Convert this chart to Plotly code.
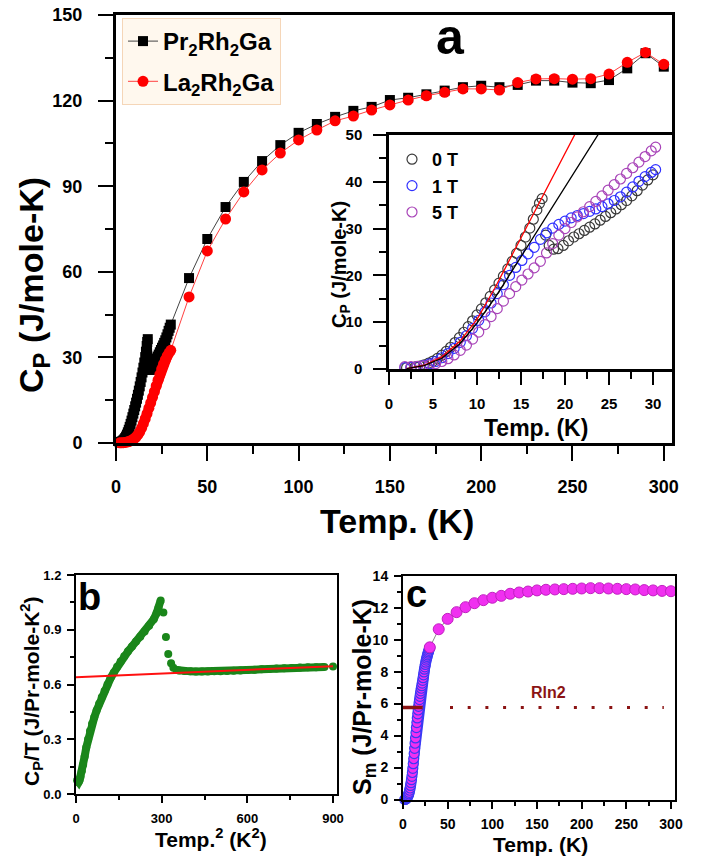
import plotly.graph_objects as go

FONT = "Liberation Sans, Arial, sans-serif"

# ---------------- panel a (main): Cp vs T ----------------
pr_T_low = [2.0, 2.5, 3.0, 3.5, 4.0, 4.5, 5.0, 5.5, 6.0, 6.5, 7.0, 7.5, 8.0, 8.5, 9.0, 9.5, 10.0,
            10.5, 11.0, 11.5, 12.0, 12.5, 13.0, 13.5, 14.0, 14.5, 15.0, 15.5, 16.0, 16.4, 16.8, 17.1,
            17.4, 17.8, 18.2, 18.7, 19.2, 19.8, 20.4, 21.0, 21.6, 22.2, 22.8, 23.4, 24.0, 24.6, 25.2,
            25.8, 26.4, 27.0, 27.6, 28.2, 28.8, 29.4, 30.0]
pr_C_low = [0.3, 0.35, 0.45, 0.62, 0.9, 1.25, 1.7, 2.25, 2.95, 3.75, 4.65, 5.65, 6.7, 7.85, 9.05,
            10.3, 11.55, 12.85, 14.15, 15.5, 16.9, 18.35, 19.85, 21.4, 23.0, 24.7, 26.4, 28.2, 30.1,
            32.0, 34.0, 35.4, 36.4, 28.6, 26.4, 25.6, 25.7, 26.4, 27.4, 28.2, 28.9, 29.6, 30.3, 31.0,
            31.8, 32.6, 33.4, 34.2, 35.1, 36.0, 37.0, 38.1, 39.3, 40.4, 41.5]
pr_T_high = [40, 50, 60, 70, 80, 90, 100, 110, 120, 130, 140, 150, 160, 170, 180, 190, 200, 210,
             220, 230, 240, 250, 260, 270, 280, 290, 300]
pr_C_high = [57.8, 71.5, 82.7, 91.5, 98.8, 104.4, 108.7, 111.8, 114.3, 116.4, 117.8, 120.2, 121.0,
             122.2, 123.5, 124.7, 125.2, 124.7, 125.5, 127.0, 127.0, 126.3, 126.1, 127.2, 131.3,
             136.6, 131.9]

la_T_low = [2, 3, 4, 5, 6, 7, 8, 9, 10, 11, 12, 13, 14, 15, 16, 17, 18, 19, 20, 21, 22, 23, 24,
            25, 26, 27, 28, 29, 30]
la_C_low = [0.05, 0.08, 0.12, 0.2, 0.32, 0.5, 0.75, 1.1, 1.55, 2.1, 2.9, 3.9, 5.2, 6.8, 8.5, 10.3,
            12.2, 14.1, 16.0, 18.0, 20.0, 22.0, 24.0, 25.9, 27.6, 29.1, 30.4, 31.5, 32.5]
la_T_high = pr_T_high
la_C_high = [51.2, 67.3, 78.5, 88.0, 95.7, 101.6, 106.2, 109.7, 112.9, 114.6, 116.7, 118.5, 120.2,
             121.7, 122.9, 124.1, 124.1, 123.7, 126.3, 127.6, 127.7, 127.5, 127.7, 129.3, 133.4,
             136.9, 132.7]

# ---------------- inset: Cp vs T in fields ----------------
f0_T = pr_T_low
f0_C = pr_C_low
f1_T = [1.8, 2.5, 3.2, 3.9, 4.6, 5.3, 6.0, 6.7, 7.4, 8.1, 8.8, 9.5, 10.2, 10.9, 11.6, 12.3, 13.0,
        13.7, 14.4, 15.1, 15.8, 16.5, 17.2, 17.9, 18.6, 19.3, 20.0, 20.7, 21.4, 22.1, 22.8, 23.5,
        24.2, 24.9, 25.6, 26.3, 27.0, 27.7, 28.4, 29.1, 29.8, 30.3]
f1_C = [0.3, 0.35, 0.5, 0.75, 1.1, 1.6, 2.4, 3.3, 4.4, 5.7, 7.1, 8.7, 10.4, 12.2, 14.1, 16.1, 18.0,
        20.0, 21.7, 23.2, 24.6, 26.0, 27.7, 29.1, 30.1, 30.9, 31.6, 32.3, 32.8, 33.2, 33.7, 34.2,
        34.7, 35.3, 36.0, 36.8, 37.8, 38.9, 40.1, 41.1, 42.0, 42.6]
f5_T = f1_T
f5_C = [0.5, 0.5, 0.55, 0.65, 0.85, 1.15, 1.6, 2.2, 3.0, 4.0, 5.1, 6.4, 7.9, 9.5, 11.2, 12.9, 14.5,
        16.1, 17.6, 19.0, 20.3, 21.6, 23.0, 24.8, 26.8, 28.6, 30.0, 31.3, 32.5, 33.6, 34.7, 35.8,
        37.0, 38.2, 39.4, 40.6, 41.8, 43.0, 44.2, 45.4, 46.6, 47.4]
fit_red_T = [2, 4, 6, 8, 10, 12, 14, 16, 18, 20, 21.2]
fit_red_C = [0.1, 0.8, 2.6, 5.8, 10.6, 17.2, 24.4, 31.6, 38.9, 46.1, 50.4]
fit_blk_T = [2, 4, 6, 8, 10, 12, 14, 16, 18, 20, 22, 23.8]
fit_blk_C = [0.1, 0.7, 2.3, 5.3, 9.8, 15.1, 21.0, 27.0, 32.9, 38.9, 44.8, 50.2]

# ---------------- panel b: Cp/T vs T^2 ----------------
b_T2 = [4, 6.25, 9, 12.25, 16, 20.25, 25, 30.25, 36, 42.25, 49, 56.25, 64, 72.25, 81, 90.25, 100,
        110.25, 121, 132.25, 144, 156.25, 169, 182.25, 196, 210.25, 225, 240.25, 256, 272.25, 282,
        289, 296.5, 306, 315, 323, 333, 341, 352, 361, 380, 400, 420, 441, 462, 484, 506, 529, 552,
        576, 600, 625, 650, 676, 702, 729, 756, 784, 812, 841, 870, 900]
b_CpT = [0.075, 0.068, 0.065, 0.075, 0.095, 0.125, 0.16, 0.205, 0.255, 0.3, 0.345, 0.385, 0.42,
         0.458, 0.495, 0.53, 0.565, 0.6, 0.635, 0.665, 0.697, 0.726, 0.755, 0.782, 0.808, 0.835,
         0.862, 0.89, 0.922, 0.958, 0.99, 1.02, 1.06, 0.995, 0.86, 0.767, 0.716, 0.692, 0.68, 0.677,
         0.674, 0.672, 0.671, 0.671, 0.671, 0.672, 0.673, 0.674, 0.676, 0.677, 0.679, 0.681, 0.683,
         0.685, 0.687, 0.689, 0.691, 0.693, 0.694, 0.695, 0.696, 0.698]
b_fit_T2 = [0, 900]
b_fit_CpT = [0.64, 0.70]

# ---------------- panel c: magnetic entropy ----------------
c_T_dense = [2.0, 2.5, 3.0, 3.5, 4.0, 4.5, 5.0, 5.5, 6.0, 6.5, 7.0, 7.5, 8.0, 8.5, 9.0, 9.5, 10.0,
             10.5, 11.0, 11.5, 12.0, 12.5, 13.0, 13.5, 14.0, 14.5, 15.0, 15.5, 16.0, 16.5, 17.0,
             17.5, 18.0, 18.5, 19.0, 19.5, 20.0, 20.5, 21.0, 21.5, 22.0, 22.5, 23.0, 23.5, 24.0,
             24.5, 25.0, 25.5, 26.0, 26.5, 27.0, 27.5, 28.0, 28.5, 29.0, 29.5, 30.0]
c_S_dense = [0.0, 0.01, 0.03, 0.05, 0.08, 0.12, 0.16, 0.21, 0.28, 0.36, 0.45, 0.58, 0.72, 0.88,
             1.05, 1.24, 1.45, 1.69, 1.95, 2.24, 2.55, 2.87, 3.2, 3.52, 3.85, 4.18, 4.5, 4.81, 5.1,
             5.36, 5.6, 5.83, 6.05, 6.25, 6.45, 6.63, 6.8, 6.96, 7.12, 7.28, 7.45, 7.62, 7.8, 7.98,
             8.15, 8.3, 8.45, 8.59, 8.72, 8.84, 8.95, 9.05, 9.15, 9.24, 9.33, 9.42, 9.5]
c_T_sparse = [30, 40, 50, 60, 70, 80, 90, 100, 110, 120, 130, 140, 150, 160, 170, 180, 190, 200,
              210, 220, 230, 240, 250, 260, 270, 280, 290, 300]
c_S_sparse = [9.52, 10.65, 11.3, 11.72, 12.03, 12.28, 12.47, 12.62, 12.74, 12.87, 12.95, 13.01,
              13.08, 13.12, 13.14, 13.16, 13.18, 13.2, 13.22, 13.22, 13.2, 13.18, 13.16, 13.14,
              13.1, 13.08, 13.05, 13.03]
RLN2 = 5.76
rln2_solid_T = [0, 22]
rln2_dot_T = [52.6, 292]

# ---------------- figure ----------------
fig = go.Figure()
W, H = 704, 857


def px_x(p):
    return p / W


def px_y(p):
    return 1 - p / H


# panel a
fig.add_trace(go.Scatter(x=pr_T_low, y=pr_C_low, mode="lines", xaxis="x", yaxis="y",
                         line=dict(color="black", width=8), showlegend=False, hoverinfo="skip"))
fig.add_trace(go.Scatter(x=pr_T_low + pr_T_high, y=pr_C_low + pr_C_high, mode="lines+markers",
                         name="Pr<sub>2</sub>Rh<sub>2</sub>Ga", xaxis="x", yaxis="y",
                         line=dict(color="#444444", width=1),
                         marker=dict(symbol="square", size=10, color="black"),
                         legend="legend", legendgroup="pr", cliponaxis=False))
fig.add_trace(go.Scatter(x=la_T_low, y=la_C_low, mode="lines", xaxis="x", yaxis="y",
                         line=dict(color="#FF0000", width=9), showlegend=False, hoverinfo="skip"))
fig.add_trace(go.Scatter(x=la_T_low + la_T_high, y=la_C_low + la_C_high, mode="lines+markers",
                         name="La<sub>2</sub>Rh<sub>2</sub>Ga", xaxis="x", yaxis="y",
                         line=dict(color="#FF4040", width=1),
                         marker=dict(symbol="circle", size=11, color="#FF0000"),
                         legend="legend", legendgroup="la", cliponaxis=False))

# inset
for T, C, col, nm in [(f0_T, f0_C, "#3A3A3A", "0 T"), (f1_T, f1_C, "#3030FF", "1 T"),
                      (f5_T, f5_C, "#A844B8", "5 T")]:
    fig.add_trace(go.Scatter(x=T, y=C, mode="markers", name=nm, xaxis="x2", yaxis="y2",
                             marker=dict(symbol="circle-open", size=10, color=col,
                                         line=dict(width=1.2, color=col)),
                             legend="legend2"))
fig.add_trace(go.Scatter(x=fit_red_T, y=fit_red_C, mode="lines", xaxis="x2", yaxis="y2",
                         line=dict(color="#FF0000", width=1.3), showlegend=False))
fig.add_trace(go.Scatter(x=fit_blk_T, y=fit_blk_C, mode="lines", xaxis="x2", yaxis="y2",
                         line=dict(color="black", width=1.3), showlegend=False))

# panel b
GREEN = "#1A861A"
fig.add_trace(go.Scatter(x=b_T2[:33], y=b_CpT[:33], mode="lines", xaxis="x3", yaxis="y3",
                         line=dict(color=GREEN, width=8), showlegend=False, hoverinfo="skip"))
fig.add_trace(go.Scatter(x=b_T2[38:61], y=b_CpT[38:61], mode="lines", xaxis="x3", yaxis="y3",
                         line=dict(color=GREEN, width=8), showlegend=False, hoverinfo="skip"))
fig.add_trace(go.Scatter(x=b_T2, y=b_CpT, mode="markers", xaxis="x3", yaxis="y3",
                         marker=dict(size=8, color=GREEN), showlegend=False, cliponaxis=False))
fig.add_trace(go.Scatter(x=b_fit_T2, y=b_fit_CpT, mode="lines", xaxis="x3", yaxis="y3",
                         line=dict(color="#FF1010", width=2), showlegend=False))

# panel c
DARKRED = "#8B1414"
fig.add_trace(go.Scatter(x=c_T_dense, y=c_S_dense, mode="lines", xaxis="x4", yaxis="y4",
                         line=dict(color="#3A3AF5", width=10), showlegend=False, hoverinfo="skip"))
fig.add_trace(go.Scatter(x=c_T_dense, y=c_S_dense, mode="markers", xaxis="x4", yaxis="y4",
                         marker=dict(size=10, color="#F030F0", line=dict(color="#3A3AF5", width=1.2)),
                         showlegend=False, cliponaxis=False))
fig.add_trace(go.Scatter(x=c_T_sparse, y=c_S_sparse, mode="lines+markers", xaxis="x4", yaxis="y4",
                         line=dict(color="#888888", width=1),
                         marker=dict(size=11, color="#F030F0", line=dict(color="#C020C0", width=1)),
                         showlegend=False))
fig.add_trace(go.Scatter(x=rln2_solid_T, y=[RLN2] * len(rln2_solid_T), mode="lines",
                         xaxis="x4", yaxis="y4", line=dict(color=DARKRED, width=3.5),
                         showlegend=False))
fig.add_trace(go.Scatter(x=rln2_dot_T, y=[RLN2] * len(rln2_dot_T), mode="lines",
                         xaxis="x4", yaxis="y4", line=dict(color=DARKRED, width=3, dash="3px,14.7px"),
                         showlegend=False))


def axis(domain, rng, dtick, mdtick, anchor, ticklen, mlen, lw, fsize, fmt=None, standoff=4):
    d = dict(domain=domain, range=rng, anchor=anchor, showgrid=False, zeroline=False,
             showline=True, linecolor="black", linewidth=lw, mirror=True,
             ticks="outside", ticklen=ticklen, tickwidth=lw * 0.8, tickcolor="black",
             tick0=0, dtick=dtick, automargin=False,
             minor=dict(dtick=mdtick, tick0=0, ticks="outside", ticklen=mlen,
                        tickwidth=lw * 0.8, tickcolor="black", showgrid=False),
             tickfont=dict(family=FONT, size=fsize, color="black", weight="bold"),
             ticklabelstandoff=standoff, fixedrange=True)
    if fmt:
        d["tickformat"] = fmt
    return d


layout = dict(
    width=W, height=H, margin=dict(l=0, r=0, t=0, b=0, autoexpand=False),
    paper_bgcolor="white", plot_bgcolor="white",
    font=dict(family=FONT, color="black"),
    xaxis=axis([px_x(116), px_x(672)], [0, 304.5], 50, 25, "y", 15, 8, 3, 18, standoff=10),
    yaxis=axis([px_y(443), px_y(15)], [0, 150], 30, 15, "x", 15, 8, 3, 18, standoff=12),
    xaxis2=axis([px_x(389), px_x(672)], [0, 32.16], 5, 2.5, "y2", 13, 7, 2.5, 15, standoff=6),
    yaxis2=axis([px_y(369), px_y(135)], [0, 50], 10, 5, "x2", 13, 7, 2.5, 15, standoff=8),
    xaxis3=axis([px_x(76), px_x(337)], [0, 914], 300, 150, "y3", 7, 4, 2, 13, standoff=4),
    yaxis3=axis([px_y(794), px_y(575)], [0, 1.2], 0.3, 0.15, "x3", 7, 4, 2, 13, fmt=".1f", standoff=3),
    xaxis4=axis([px_x(403), px_x(675)], [0, 304.5], 50, 25, "y4", 7, 4, 2, 14, standoff=4),
    yaxis4=axis([px_y(799.5), px_y(575.7)], [0, 14], 2, 1, "x4", 7, 4, 2, 14, standoff=3),
    legend=dict(x=px_x(122), y=px_y(18), xanchor="left", yanchor="top",
                bgcolor="#FFF8EE", bordercolor="#F5D6B8", borderwidth=1,
                font=dict(family=FONT, size=24, color="black", weight="bold"),
                tracegroupgap=6, itemsizing="trace"),
    legend2=dict(x=px_x(392), y=px_y(141), xanchor="left", yanchor="top",
                 bgcolor="white", borderwidth=0,
                 font=dict(family=FONT, size=18, color="black", weight="bold"),
                 itemsizing="trace"),
    shapes=[dict(type="rect", xref="x2 domain", yref="y2 domain", x0=0, x1=1, y0=0, y1=1,
                 fillcolor="#E5E5EE", line=dict(width=0), layer="below")],
)


def ann(text, x, y, size, angle=0, color="black", xref="paper", yref="paper"):
    return dict(text="<b>" + text + "</b>", x=x, y=y, xref=xref, yref=yref, showarrow=False,
                xanchor="center", yanchor="middle", textangle=angle,
                font=dict(family=FONT, size=size, color=color))


layout["annotations"] = [
    ann("a", px_x(450), px_y(37), 50),
    ann("b", px_x(89), px_y(597), 38),
    ann("c", px_x(416), px_y(594), 38),
    ann("Temp. (K)", px_x(397), px_y(521), 34),
    ann("C<sub>P</sub> (J/mole-K)", px_x(34), px_y(285), 34, angle=-90),
    ann("Temp. (K)", px_x(536), px_y(428), 23),
    ann("C<sub>P</sub> (J/mole-K)", px_x(340), px_y(265), 20, angle=-90),
    ann("Temp.<sup>2</sup> (K<sup>2</sup>)", px_x(211), px_y(838), 21),
    ann("C<sub>P</sub>/T (J/Pr-mole-K<sup>2</sup>)", px_x(31), px_y(691), 21, angle=-90),
    ann("Temp. (K)", px_x(540), px_y(844), 21),
    ann("S<sub>m</sub> (J/Pr-mole-K)", px_x(364), px_y(697), 25, angle=-90),
    ann("Rln2", 163, 6.67, 16, color=DARKRED, xref="x4", yref="y4"),
]

fig.update_layout(**layout)
fig.write_html("out.html")
